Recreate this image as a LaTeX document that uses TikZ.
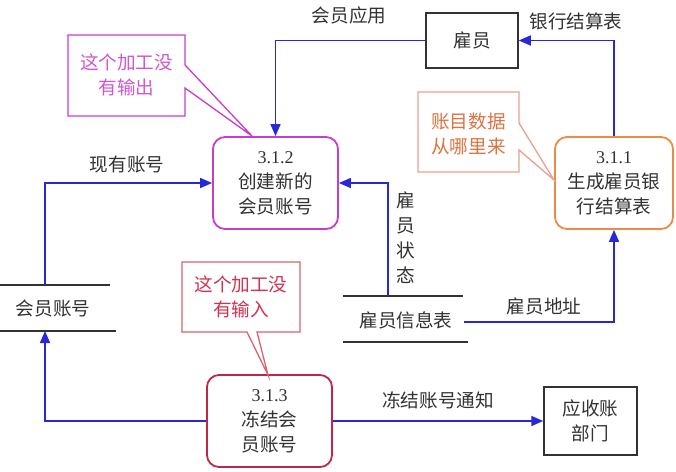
\documentclass[tikz,border=0pt]{standalone}
\usepackage{fontspec}
\setmainfont{Liberation Serif}
\newfontfamily\cjk{Noto Sans CJK SC}
\usetikzlibrary{arrows.meta}
\definecolor{flowblue}{RGB}{40,40,215}
\definecolor{ink}{RGB}{50,50,50}
\definecolor{mag}{RGB}{200,60,205}
\definecolor{magtext}{RGB}{210,85,210}
\definecolor{orng}{RGB}{235,140,70}
\definecolor{orngline}{RGB}{235,160,140}
\definecolor{orngtext}{RGB}{220,115,65}
\definecolor{rd}{RGB}{190,40,70}
\definecolor{rdline}{RGB}{215,100,115}
\definecolor{rdtext}{RGB}{210,50,80}
\tikzset{
  txt/.style={font=\cjk\fontsize{18.6}{25}\selectfont, text=ink, align=center, inner sep=0pt},
  proc/.style={txt, draw, line width=1.8pt, rounded corners=12pt, minimum width=125pt, minimum height=92pt},
  ext/.style={txt, draw=ink, line width=1.5pt, minimum width=92pt, minimum height=55pt},
  flow/.style={draw=flowblue, line width=1.6pt, -{Triangle[length=12pt,width=10pt]}},
  storeline/.style={draw=ink, line width=1.5pt},
  callout/.style={line width=1.3pt, fill=white},
}
\begin{document}
\begin{tikzpicture}[x=1pt,y=-1pt]
\useasboundingbox[fill=white] (0,0) rectangle (676,471);

% external entities
\node[ext] (yg) at (472,40.5) {雇员};
\node[ext, minimum width=93pt, minimum height=68pt] (ysz) at (590.5,421) {应收账\\部门};

% processes
\node[proc, draw=mag] (p312) at (275.5,183) {{\rmfamily\fontsize{18}{25}\selectfont 3.1.2}\\创建新的\\会员账号};
\node[proc, draw=orng, minimum width=118pt] (p311) at (614,183) {{\rmfamily\fontsize{18}{25}\selectfont 3.1.1}\\生成雇员银\\行结算表};
\node[proc, draw=rd] (p313) at (269.5,421) {{\rmfamily\fontsize{18}{25}\selectfont 3.1.3}\\冻结会\\员账号};

% data stores
\node[txt] (hyzh) at (53,308) {会员账号};
\coordinate (hyzhT) at (45,285);
\coordinate (hyzhB) at (45,331);
\draw[storeline] (0,285) -- (110,285);
\draw[storeline] (0,331) -- (116,331);

\node[txt] (ygxx) at (406,320) {雇员信息表};
\coordinate (ygxxT) at (388,296);
\coordinate (ygxxR) at (464,322);
\draw[storeline] (343,296) -- (463,296);
\draw[storeline] (343,342) -- (468,342);

% flows
\draw[flow] (p311.north) |- (yg.east);
\draw[flow] (yg.west) -| (p312.north);
\draw[flow] (hyzhT) |- (p312.west);
\draw[flow] (ygxxT) |- (p312.east);
\draw[flow] (ygxxR) -| (p311.south);
\draw[flow] (p313.west) -| (hyzhB);
\draw[flow] (p313.east) -- (ysz.west);

% flow labels
\node[txt] (l1) at (349,15) {会员应用};
\node[txt] (l2) at (576,21) {银行结算表};
\node[txt] (l3) at (127,164) {现有账号};
\node[txt] (l4) at (406,238) {雇\\员\\状\\态};
\node[txt] (l5) at (544,306) {雇员地址};
\node[txt] (l6) at (438,400) {冻结账号通知};

% callouts
\draw[callout, draw=mag] (68,35) -- (185,35) -- (185,65) -- (252,136) -- (185,88) -- (185,116) -- (68,116) -- cycle;
\node[txt, text=magtext] (c1) at (126.5,75) {这个加工没\\有输出};

\draw[callout, draw=orngline] (418,92) -- (519,92) -- (519,123) -- (554,180) -- (519,150) -- (519,172) -- (418,172) -- cycle;
\node[txt, text=orngtext] (c2) at (468.5,134) {账目数据\\从哪里来};

\draw[callout, draw=rdline] (182,262) -- (300,262) -- (300,332) -- (257,332) -- (268,375) -- (247,332) -- (182,332) -- cycle;
\node[txt, text=rdtext] (c3) at (241,297) {这个加工没\\有输入};
\end{tikzpicture}
\end{document}
